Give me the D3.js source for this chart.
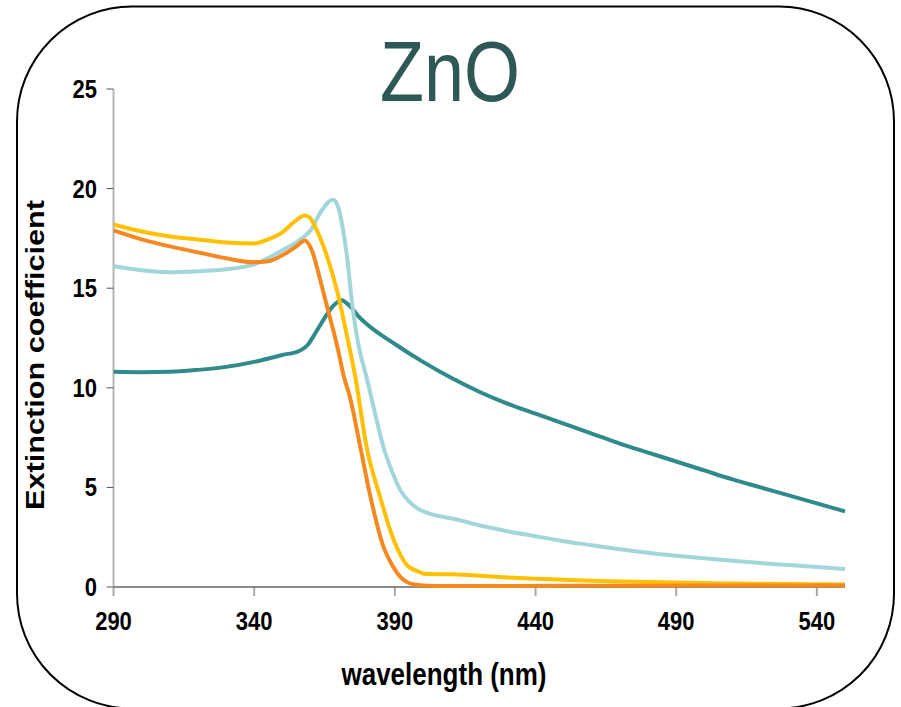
<!DOCTYPE html>
<head>
  <meta charset="utf-8">
  <script src="https://d3js.org/d3.v7.min.js"></script>
  <style>
    body { margin: 0; background: #fff; }
    text { font-family: "Liberation Sans", Arial, sans-serif; }
    .tick-label { font-size: 22px; font-weight: bold; fill: #000; }
    .axis-title { font-size: 26px; font-weight: bold; fill: #000; }
  </style>
</head>

<body>
  <script>

  // x ticks / y ticks
  var xTicks = [290, 340, 390, 440, 490, 540];
  var yTicks = [0, 5, 10, 15, 20, 25];

  // dark teal series
  var tealNm = [290, 300, 310, 320, 330, 340, 350, 356, 359, 362, 365, 368, 371, 374, 377, 380, 390, 400, 410, 420, 430, 440, 450, 460, 470, 480, 490, 500, 510, 520, 530, 540, 550];
  var tealK  = [10.8, 10.78, 10.8, 10.9, 11.05, 11.3, 11.65, 11.85, 12.15, 12.8, 13.5, 14.1, 14.4, 14.1, 13.6, 13.2, 12.2, 11.3, 10.5, 9.8, 9.2, 8.7, 8.2, 7.7, 7.2, 6.75, 6.3, 5.85, 5.4, 5.0, 4.6, 4.2, 3.8];

  // light blue series
  var blueNm = [290, 300, 310, 320, 330, 340, 350, 356, 360, 364, 368, 370, 371.5, 373, 375, 377, 380, 383, 386, 389, 392, 395, 398, 402, 406, 410, 420, 430, 440, 450, 460, 470, 480, 490, 500, 510, 520, 530, 540, 550];
  var blueK  = [16.1, 15.9, 15.8, 15.85, 15.95, 16.2, 16.9, 17.4, 17.9, 18.9, 19.45, 19.0, 18.0, 16.6, 14.0, 12.2, 10.5, 8.7, 7.0, 5.8, 4.85, 4.3, 3.95, 3.7, 3.55, 3.45, 3.1, 2.8, 2.55, 2.3, 2.1, 1.9, 1.72, 1.57, 1.44, 1.32, 1.2, 1.1, 1.0, 0.9];

  // orange series
  var orangeNm = [290, 300, 310, 320, 330, 340, 345, 350, 355, 358, 360.5, 363.5, 366.5, 369.5, 372, 374, 377.7, 381.3, 386, 389, 392, 395, 398, 405, 420, 450, 500, 550];
  var orangeK  = [17.9, 17.45, 17.1, 16.8, 16.5, 16.3, 16.35, 16.65, 17.1, 17.4, 16.9, 15.4, 13.75, 12.1, 10.5, 9.55, 7.05, 4.55, 2.0, 1.1, 0.5, 0.2, 0.1, 0.05, 0.05, 0.06, 0.07, 0.08];

  // yellow series
  var yellowNm = [290, 300, 310, 320, 330, 340, 345, 350, 354, 358, 360, 362.3, 365.9, 369.4, 373, 376, 380, 384.8, 389.6, 394.3, 398, 401, 410, 427, 440, 452, 470, 490, 510, 530, 550];
  var yellowK  = [18.2, 17.85, 17.6, 17.45, 17.3, 17.25, 17.45, 17.8, 18.3, 18.65, 18.5, 17.9, 16.6, 14.9, 12.6, 10.5, 7.0, 4.5, 2.36, 1.1, 0.8, 0.65, 0.64, 0.5, 0.42, 0.35, 0.28, 0.22, 0.18, 0.15, 0.13];

  var series = [
    {nm: tealNm, k: tealK, color: "#2f8a8b"},
    {nm: blueNm, k: blueK, color: "#a2d6da"},
    {nm: yellowNm, k: yellowK, color: "#ffc000"},
    {nm: orangeNm, k: orangeK, color: "#f5891f"}
  ];

  var width = 901, height = 707;
  var stretch = 1.18;

  var svg = d3.select("body").append("svg")
      .attr("width", width)
      .attr("height", height);

  // rounded frame
  svg.append("rect")
      .attr("x", 17)
      .attr("y", 6.5)
      .attr("width", 877)
      .attr("height", 702)
      .attr("rx", 115)
      .attr("ry", 115)
      .attr("fill", "none")
      .attr("stroke", "#000")
      .attr("stroke-width", 2);

  var x = d3.scaleLinear()
      .domain([290, 550])
      .range([113.5, 845]);

  var y = d3.scaleLinear()
      .domain([0, 25])
      .range([587, 89]);

  // y axis
  svg.append("line")
      .attr("x1", x(290)).attr("x2", x(290))
      .attr("y1", y(25)).attr("y2", y(0))
      .attr("stroke", "#b5b5b5")
      .attr("stroke-width", 2);

  var yTick = svg.append("g").selectAll("g")
      .data(yTicks)
      .enter().append("g");

  yTick.append("line")
      .attr("x1", x(290) - 7).attr("x2", x(290))
      .attr("y1", function(d) { return y(d); })
      .attr("y2", function(d) { return y(d); })
      .attr("stroke", "#555")
      .attr("stroke-width", 1);

  yTick.append("text")
      .attr("class", "tick-label")
      .attr("text-anchor", "end")
      .attr("transform", function(d) { return "translate(97," + (y(d) + 9) + ")scale(1," + stretch + ")"; })
      .text(function(d) { return d; });

  // x axis
  var xTick = svg.append("g").selectAll("g")
      .data(xTicks)
      .enter().append("g");

  xTick.append("line")
      .attr("x1", function(d) { return x(d); })
      .attr("x2", function(d) { return x(d); })
      .attr("y1", y(0)).attr("y2", y(0) + 9)
      .attr("stroke", "#aaa")
      .attr("stroke-width", 2);

  svg.append("line")
      .attr("x1", x(290)).attr("x2", x(550))
      .attr("y1", y(0)).attr("y2", y(0))
      .attr("stroke", "#666")
      .attr("stroke-width", 1.5);

  xTick.append("text")
      .attr("class", "tick-label")
      .attr("text-anchor", "middle")
      .attr("transform", function(d) { return "translate(" + x(d) + ",630)scale(1," + stretch + ")"; })
      .text(function(d) { return d; });

  // lines
  var line = d3.line()
      .x(function(d) { return x(d[0]); })
      .y(function(d) { return y(d[1]); })
      .curve(d3.curveMonotoneX);

  series.forEach(function(s) {
    svg.append("path")
        .datum(d3.zip(s.nm, s.k))
        .attr("fill", "none")
        .attr("stroke", s.color)
        .attr("stroke-width", 4)
        .attr("stroke-linejoin", "round")
        .attr("d", line);
  });

  // titles
  svg.append("text")
      .attr("text-anchor", "middle")
      .attr("transform", "translate(450,101)scale(1," + stretch + ")")
      .style("font-size", "72px")
      .attr("fill", "#2f5753")
      .text("ZnO");

  svg.append("text")
      .attr("class", "axis-title")
      .attr("text-anchor", "middle")
      .attr("transform", "translate(444,685)scale(1," + stretch + ")")
      .text("wavelength (nm)");

  svg.append("text")
      .attr("class", "axis-title")
      .attr("text-anchor", "middle")
      .attr("transform", "translate(44,355)rotate(-90)scale(" + stretch + ",1)")
      .text("Extinction coefficient");

  </script>

</body>
